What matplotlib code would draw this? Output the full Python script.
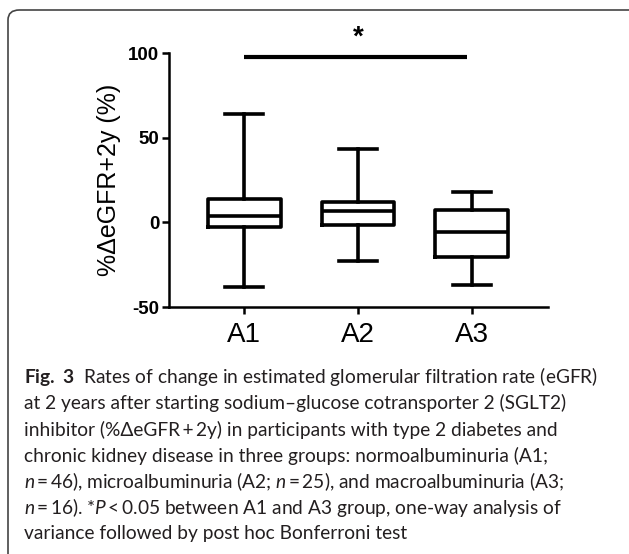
import matplotlib
matplotlib.use("Agg")
import matplotlib.pyplot as plt
from matplotlib.patches import FancyBboxPatch

# Box plot summary
groups = ["A1", "A2", "A3"]
whisker_low = [-38.3, -22.6, -36.9]
q1 = [-2.9, -1.8, -20.2]
median = [3.7, 6.5, -5.5]
q3 = [13.6, 11.8, 7.3]
whisker_high = [64.2, 43.2, 17.7]

yticks = [-50, 0, 50, 100]
ylabel = "%\u0394eGFR+2y (%)"
sig_pair = (1, 2.96)
sig_y = 97.5

caption = [
    r"$\mathbf{Fig.\ 3}$  Rates of change in estimated glomerular filtration rate (eGFR)",
    "at 2 years after starting sodium\u2013glucose cotransporter 2 (SGLT2)",
    "inhibitor (%\u0394eGFR\u2009+\u20092y) in participants with type 2 diabetes and",
    "chronic kidney disease in three groups: normoalbuminuria (A1;",
    r"$\mathit{n}$" + "\u2009=\u200946), microalbuminuria (A2; " + r"$\mathit{n}$" + "\u2009=\u200925), and macroalbuminuria (A3;",
    r"$\mathit{n}$" + "\u2009=\u200916). *" + r"$\mathit{P}$" + "\u2009<\u20090.05 between A1 and A3 group, one-way analysis of",
    "variance followed by post hoc Bonferroni test",
]

plt.rcParams["mathtext.fontset"] = "custom"
plt.rcParams["mathtext.rm"] = "Lato"
plt.rcParams["mathtext.it"] = "Lato:italic"
plt.rcParams["mathtext.bf"] = "Lato:bold"

W, H = 629, 554
fig = plt.figure(figsize=(W / 100, H / 100), dpi=100)

# rounded frame around figure + caption
frame = FancyBboxPatch((8 / W, -20 / H), 640 / W, (H - 10 + 20) / H,
                       boxstyle="round,pad=0,rounding_size=0.018",
                       transform=fig.transFigure, facecolor="none",
                       edgecolor="#444444", linewidth=1.2)
fig.patches.append(frame)

ax = fig.add_axes([169 / W, 1 - 307 / H, (548 - 169) / W, (307 - 53) / H])

stats = []
for i, g in enumerate(groups):
    stats.append({"label": g, "whislo": whisker_low[i], "q1": q1[i],
                  "med": median[i], "q3": q3[i], "whishi": whisker_high[i],
                  "fliers": []})

lw = 2.6
ax.bxp(stats, positions=[1, 2, 3], widths=0.64, capwidths=0.33,
       showfliers=False,
       boxprops=dict(color="black", linewidth=lw),
       medianprops=dict(color="black", linewidth=lw),
       whiskerprops=dict(color="black", linewidth=lw),
       capprops=dict(color="black", linewidth=lw))

ax.set_xlim(0.34, 3.67)
ax.set_ylim(-50, 100)
ax.set_yticks(yticks)
ax.set_yticklabels([str(t) for t in yticks], fontweight="bold", fontsize=13.5,
                   family=["Liberation Sans Narrow", "Liberation Sans"])
ax.set_xticks([1, 2, 3])
ax.set_xticklabels(groups, fontsize=20, family="Liberation Sans")
ax.tick_params(axis="both", width=1.8, length=5, color="black")
ax.tick_params(axis="x", pad=6)
ax.tick_params(axis="y", pad=2)

for s in ["top", "right"]:
    ax.spines[s].set_visible(False)
for s in ["left", "bottom"]:
    ax.spines[s].set_linewidth(1.8)

ax.set_ylabel(ylabel, fontsize=18, family="Liberation Sans", labelpad=5)

# significance bar
ax.plot(sig_pair, [sig_y, sig_y], color="black", linewidth=3, clip_on=False,
        solid_capstyle="butt")
ax.text(2, 101.5, "*", ha="center", va="bottom", fontsize=20, fontweight="bold",
        family="Liberation Sans", clip_on=False)

# caption
baselines = [383, 409, 436, 462, 488, 514, 539]
for line, yb in zip(caption, baselines):
    fig.text(24 / W, 1 - yb / H, line, fontsize=13.8, color="#231f20",
             family=["Lato", "DejaVu Sans"], va="baseline", ha="left")

fig.savefig("out.png", dpi=100)
